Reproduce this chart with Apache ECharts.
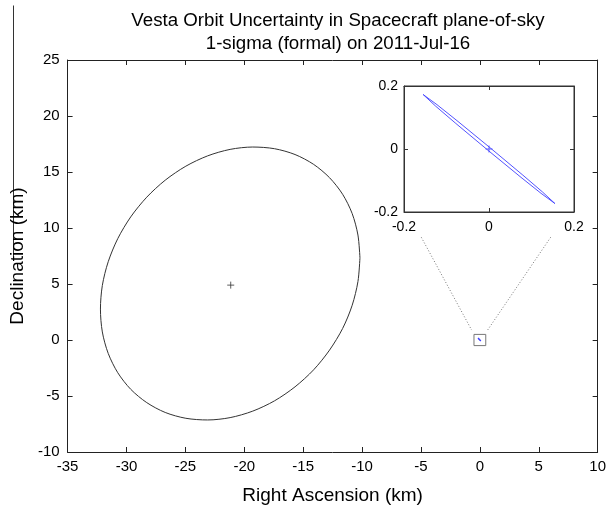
<!DOCTYPE html>
<html>
<head>
<meta charset="utf-8">
<script src="https://cdn.jsdelivr.net/npm/echarts@6/dist/echarts.min.js"></script>
<style>
  html, body { margin: 0; padding: 0; background: #fff; }
  #chart { width: 609px; height: 513px; }
</style>
</head>
<body>
<div id="chart"></div>
<script>
// 1-sigma uncertainty ellipse (km, plane-of-sky), traced counter-clockwise from the east edge
const ellipseRA  = [-10.18, -10.35, -10.84, -11.65, -12.76, -14.11, -15.69, -17.43, -19.28, -21.20, -23.11, -24.96,
                    -26.71, -28.28, -29.64, -30.74, -31.55, -32.05, -32.21, -32.05, -31.55, -30.74, -29.64, -28.28,
                    -26.71, -24.96, -23.11, -21.20, -19.28, -17.43, -15.69, -14.11, -12.76, -11.65, -10.84, -10.35];
const ellipseDec = [7.33, 9.37, 11.29, 13.01, 14.49, 15.68, 16.56, 17.08, 17.23, 17.02, 16.44, 15.52,
                    14.27, 12.75, 10.99, 9.05, 6.99, 4.87, 2.76, 0.72, -1.20, -2.92, -4.40, -5.59,
                    -6.47, -6.99, -7.14, -6.93, -6.35, -5.43, -4.18, -2.66, -0.90, 1.03, 3.10, 5.22];
const nominalCenter = [-21.15, 4.9];

// formal solution ellipse, close to the origin (km)
const formalRA  = [-0.155, -0.1225, -0.0753, 0.0025, 0.0797, 0.1255, 0.155, 0.1225, 0.0753, -0.0025, -0.0797, -0.1255];
const formalDec = [0.173, 0.1408, 0.0900, 0.004, -0.0830, -0.1360, -0.173, -0.1408, -0.0900, -0.004, 0.0830, 0.1360];
const formalCenter = [0, 0];

// zoom window marker and the guide lines to the inset
const zoomBoxRA  = [-0.5, 0.5, 0.5, -0.5, -0.5];
const zoomBoxDec = [-0.5, -0.5, 0.5, 0.5, -0.5];
const guideLeftRA  = [-4.97, -0.70];
const guideLeftDec = [9.17, 0.89];
const guideRightRA  = [6.01, 0.66];
const guideRightDec = [9.17, 0.89];

// axis ranges
const mainX = { min: -35, max: 10, step: 5 };
const mainY = { min: -10, max: 25, step: 5 };
const insetRange = { min: -0.2, max: 0.2, step: 0.2 };

const pairs = (xs, ys) => xs.map((x, i) => [x, ys[i]]);
const closed = (pts) => pts.concat([pts[0]]);

const FONT = '"Liberation Sans", Arial, Helvetica, sans-serif';
const INK = '#000';
const AXIS = '#222';
const BLUE = '#4040ff';

const crossPath = 'path://M5,0L5,10M0,5L10,5';

function mainAxis(extra, range, showLabels, labelMargin) {
  return Object.assign({
    type: 'value',
    gridIndex: 0,
    min: range.min, max: range.max, interval: range.step,
    axisLine: { show: true, onZero: false, lineStyle: { color: AXIS, width: 1 } },
    axisTick: { show: true, inside: true, length: 5, lineStyle: { color: AXIS, width: 1 } },
    axisLabel: { show: showLabels, margin: labelMargin, color: INK, fontSize: 15, fontFamily: FONT },
    splitLine: { show: false }
  }, extra);
}

function insetAxis(extra, showLabels, labelMargin) {
  return Object.assign({
    type: 'value',
    gridIndex: 1,
    min: insetRange.min, max: insetRange.max, interval: insetRange.step,
    axisLine: { show: true, onZero: false, lineStyle: { color: '#333', width: 1 } },
    axisTick: { show: true, inside: true, length: 4, lineStyle: { color: '#333', width: 1 } },
    axisLabel: { show: showLabels, margin: labelMargin, color: INK, fontSize: 14, fontFamily: FONT,
                 formatter: (v) => (Math.abs(v) < 1e-9 ? '0' : String(+v.toFixed(1))) },
    splitLine: { show: false }
  }, extra);
}

const chart = echarts.init(document.getElementById('chart'), null, { renderer: 'canvas' });

chart.setOption({
  animation: false,
  backgroundColor: '#fff',
  title: {
    text: 'Vesta Orbit Uncertainty in Spacecraft plane-of-sky\n1-sigma (formal) on 2011-Jul-16',
    left: 333, top: 4, textAlign: 'center',
    textStyle: { fontFamily: FONT, fontSize: 18.7, fontWeight: 'normal', color: INK, lineHeight: 23 }
  },
  grid: [
    { left: 67, top: 60, right: 9, bottom: 61, show: false },
    { left: 404, top: 86, width: 170, height: 126, show: true, backgroundColor: '#fff', borderColor: '#333', borderWidth: 1 }
  ],
  xAxis: [
    mainAxis({ position: 'bottom', name: 'Right Ascension (km)', nameLocation: 'middle', nameGap: 34,
               nameTextStyle: { fontFamily: FONT, fontSize: 19, color: INK } }, mainX, true, 7),
    mainAxis({ position: 'top' }, mainX, false, 7),
    insetAxis({ position: 'bottom' }, true, 8),
    insetAxis({ position: 'top' }, false, 8)
  ],
  yAxis: [
    mainAxis({ position: 'left', name: 'Declination (km)', nameLocation: 'middle', nameGap: 37,
               nameTextStyle: { fontFamily: FONT, fontSize: 19, color: INK } }, mainY, true, 8),
    mainAxis({ position: 'right' }, mainY, false, 8),
    insetAxis({ position: 'left' }, true, 6),
    insetAxis({ position: 'right' }, false, 6)
  ],
  series: [
    {
      name: 'ellipse', type: 'line', xAxisIndex: 0, yAxisIndex: 0,
      data: closed(pairs(ellipseRA, ellipseDec)), smooth: 0.3, symbol: 'none',
      lineStyle: { color: '#333', width: 1 }, z: 3
    },
    {
      name: 'center', type: 'scatter', xAxisIndex: 0, yAxisIndex: 0,
      data: [nominalCenter], symbol: crossPath, symbolSize: 7,
      itemStyle: { color: 'none', borderColor: '#333', borderWidth: 1 }, z: 4
    },
    {
      name: 'guideLeft', type: 'line', xAxisIndex: 0, yAxisIndex: 0,
      data: pairs(guideLeftRA, guideLeftDec), symbol: 'none',
      lineStyle: { color: '#777', width: 1, type: [1, 2] }
    },
    {
      name: 'guideRight', type: 'line', xAxisIndex: 0, yAxisIndex: 0,
      data: pairs(guideRightRA, guideRightDec), symbol: 'none',
      lineStyle: { color: '#777', width: 1, type: [1, 2] }
    },
    {
      name: 'zoomBox', type: 'line', xAxisIndex: 0, yAxisIndex: 0,
      data: pairs(zoomBoxRA, zoomBoxDec), symbol: 'none',
      lineStyle: { color: '#777', width: 1 }
    },
    {
      name: 'formalMain', type: 'line', xAxisIndex: 0, yAxisIndex: 0,
      data: closed(pairs(formalRA, formalDec)), symbol: 'none',
      lineStyle: { color: BLUE, width: 1.5 }
    },
    {
      name: 'formalInset', type: 'line', xAxisIndex: 2, yAxisIndex: 2,
      data: closed(pairs(formalRA, formalDec)), symbol: 'none',
      lineStyle: { color: BLUE, width: 0.9 }, z: 5
    },
    {
      name: 'formalCenter', type: 'scatter', xAxisIndex: 2, yAxisIndex: 2,
      data: [formalCenter], symbol: crossPath, symbolSize: 7,
      itemStyle: { color: 'none', borderColor: BLUE, borderWidth: 1 }, z: 6
    }
  ],
  graphic: [
    {
      type: 'line', left: 11, top: 3,
      shape: { x1: 0, y1: 0, x2: 0, y2: 255 },
      style: { stroke: '#333', lineWidth: 1 }
    }
  ]
});
</script>
</body>
</html>
